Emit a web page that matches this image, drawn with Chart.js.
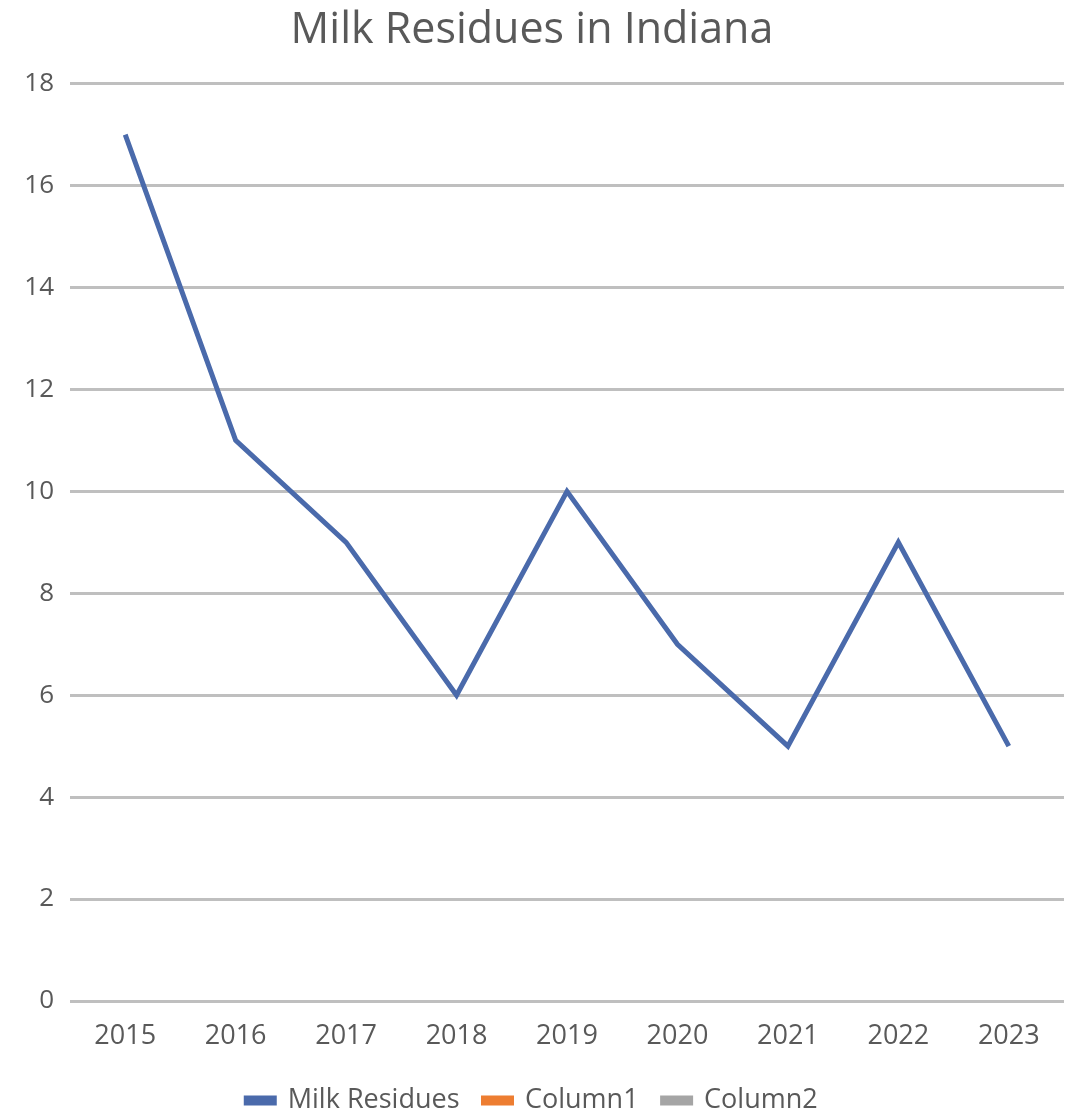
<!DOCTYPE html>
<html>
<head>
<meta charset="utf-8">
<script src="https://cdn.jsdelivr.net/npm/chart.js@4"></script>
<style>
  html, body { margin: 0; padding: 0; background: #fff; }
  #wrap { width: 1078px; height: 1114px; }
</style>
</head>
<body>
<div id="wrap"><canvas id="milkChart"></canvas></div>
<script>
// values
const years = ['2015', '2016', '2017', '2018', '2019', '2020', '2021', '2022', '2023'];
const milkResidues = [17, 11, 9, 6, 10, 7, 5, 9, 5];
const column1 = [];
const column2 = [];
const yTicks = [0, 2, 4, 6, 8, 10, 12, 14, 16, 18];

const textColor = '#595959';
const fontFamily = "'Open Sans', 'Liberation Sans', sans-serif";

const ctx = document.getElementById('milkChart').getContext('2d');

new Chart(ctx, {
    type: 'line',
    data: {
        labels: years,
        datasets: [{
            label: 'Milk Residues',
            data: milkResidues,
            borderColor: '#4a6aab',
            backgroundColor: '#4a6aab',
            borderWidth: 5,
            pointRadius: 0,
            tension: 0,
            fill: false
        }, {
            label: 'Column1',
            data: column1,
            borderColor: '#ed7d31',
            backgroundColor: '#ed7d31',
            borderWidth: 5,
            pointRadius: 0
        }, {
            label: 'Column2',
            data: column2,
            borderColor: '#a5a5a5',
            backgroundColor: '#a5a5a5',
            borderWidth: 5,
            pointRadius: 0
        }]
    },
    options: {
        responsive: true,
        maintainAspectRatio: false,
        animation: false,
        // negative bottom padding lets the legend sit low like in the original
        layout: { padding: { left: 0, right: 14, top: 0, bottom: -10 } },
        plugins: {
            title: {
                display: true,
                text: 'Milk Residues in Indiana',
                color: textColor,
                font: { family: fontFamily, size: 43, weight: 'normal' },
                padding: { top: 5, bottom: 27 }
            },
            legend: {
                position: 'bottom',
                labels: {
                    color: textColor,
                    font: { family: fontFamily, size: 27 },
                    boxWidth: 28,
                    boxHeight: 5,
                    padding: 24
                }
            },
            tooltip: { enabled: false }
        },
        scales: {
            x: {
                offset: true,
                grid: { display: false, drawTicks: false },
                border: { display: false },
                ticks: {
                    color: textColor,
                    font: { family: fontFamily, size: 27 },
                    padding: 19,
                    maxRotation: 0
                },
                afterFit: (s) => { s.height = 62; }
            },
            y: {
                min: 0,
                max: 18,
                afterBuildTicks: (s) => { s.ticks = yTicks.map(v => ({ value: v })); },
                grid: { color: '#bfbfbf', lineWidth: 3, drawTicks: false },
                border: { display: false },
                ticks: {
                    color: textColor,
                    font: { family: fontFamily, size: 26 },
                    padding: 16
                },
                afterFit: (s) => { s.width = 70; }
            }
        }
    }
});
</script>
</body>
</html>
